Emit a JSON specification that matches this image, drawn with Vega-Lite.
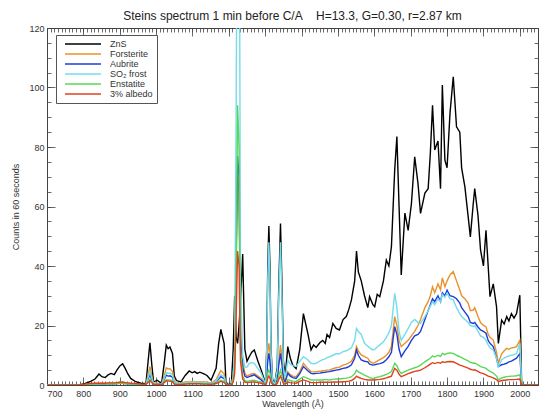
{
  "$schema": "https://vega.github.io/schema/vega-lite/v6.json",
  "width": 491,
  "height": 357,
  "autosize": {"type": "none"},
  "padding": {"left": 47, "top": 28, "right": 4, "bottom": 25},
  "background": "white",
  "title": {"text": "Steins spectrum 1 min before C/A\u00a0\u00a0\u00a0 H=13.3, G=0.30, r=2.87 km", "fontSize": 12, "font": "Liberation Sans", "fontWeight": "normal", "color": "#222", "offset": 1},
  "config": {
    "view": {"stroke": null},
    "axis": {"labelFont": "Liberation Sans", "titleFont": "Liberation Sans", "labelColor": "#333", "titleColor": "#333", "labelFontSize": 9, "titleFontSize": 9, "titleFontWeight": "normal", "grid": false, "domainColor": "#444", "tickColor": "#444", "tickWidth": 0.8, "domainWidth": 1}
  },
  "data": {"values": [
    {"w": 700, "ZnS": 0, "Fo": 0, "Au": 0, "SO2": 0, "En": 0, "Alb": 0},
    {"w": 790, "ZnS": 0, "Fo": 0, "Au": 0, "SO2": 0, "En": 0, "Alb": 0.1},
    {"w": 805, "ZnS": 0.5, "Fo": 0.2, "Au": 0.1, "SO2": 0.1, "En": 0.1, "Alb": 0.3},
    {"w": 820, "ZnS": 1.2, "Fo": 0.4, "Au": 0.2, "SO2": 0.3, "En": 0.3, "Alb": 0.5},
    {"w": 832, "ZnS": 2, "Fo": 0.5, "Au": 0.3, "SO2": 0.3, "En": 0.3, "Alb": 0.6},
    {"w": 843, "ZnS": 3.7, "Fo": 0.6, "Au": 0.3, "SO2": 0.4, "En": 0.4, "Alb": 0.6},
    {"w": 851, "ZnS": 2.8, "Fo": 0.5, "Au": 0.3, "SO2": 0.4, "En": 0.4, "Alb": 0.6},
    {"w": 860, "ZnS": 2.5, "Fo": 0.5, "Au": 0.3, "SO2": 0.4, "En": 0.4, "Alb": 0.6},
    {"w": 868, "ZnS": 3.4, "Fo": 0.6, "Au": 0.4, "SO2": 0.5, "En": 0.4, "Alb": 0.7},
    {"w": 876, "ZnS": 3.9, "Fo": 0.7, "Au": 0.4, "SO2": 0.5, "En": 0.4, "Alb": 0.7},
    {"w": 885, "ZnS": 3.5, "Fo": 0.7, "Au": 0.4, "SO2": 0.5, "En": 0.4, "Alb": 0.7},
    {"w": 893, "ZnS": 5.2, "Fo": 0.8, "Au": 0.5, "SO2": 0.6, "En": 0.5, "Alb": 0.8},
    {"w": 901, "ZnS": 6.5, "Fo": 1, "Au": 0.6, "SO2": 0.7, "En": 0.6, "Alb": 0.9},
    {"w": 908, "ZnS": 7.1, "Fo": 1, "Au": 0.6, "SO2": 0.7, "En": 0.6, "Alb": 0.9},
    {"w": 915, "ZnS": 5.6, "Fo": 0.8, "Au": 0.5, "SO2": 0.6, "En": 0.5, "Alb": 0.8},
    {"w": 922, "ZnS": 3.8, "Fo": 0.6, "Au": 0.4, "SO2": 0.5, "En": 0.4, "Alb": 0.7},
    {"w": 930, "ZnS": 2.2, "Fo": 0.5, "Au": 0.3, "SO2": 0.4, "En": 0.3, "Alb": 0.6},
    {"w": 944, "ZnS": 1.1, "Fo": 0.3, "Au": 0.2, "SO2": 0.2, "En": 0.2, "Alb": 0.5},
    {"w": 958, "ZnS": 0.6, "Fo": 0.2, "Au": 0.1, "SO2": 0.1, "En": 0.1, "Alb": 0.3},
    {"w": 972, "ZnS": 0.4, "Fo": 0.2, "Au": 0.1, "SO2": 0.1, "En": 0.1, "Alb": 0.2},
    {"w": 978, "ZnS": 8, "Fo": 3.5, "Au": 2, "SO2": 2.5, "En": 1.2, "Alb": 0.8},
    {"w": 983, "ZnS": 14.2, "Fo": 6.2, "Au": 3.5, "SO2": 4.5, "En": 2, "Alb": 1.5},
    {"w": 988, "ZnS": 7, "Fo": 3, "Au": 1.8, "SO2": 2.3, "En": 1, "Alb": 0.8},
    {"w": 993, "ZnS": 1, "Fo": 0.5, "Au": 0.3, "SO2": 0.4, "En": 0.2, "Alb": 0.2},
    {"w": 1003, "ZnS": 1.6, "Fo": 0.6, "Au": 0.4, "SO2": 0.5, "En": 0.3, "Alb": 0.3},
    {"w": 1015, "ZnS": 0.5, "Fo": 0.3, "Au": 0.2, "SO2": 0.2, "En": 0.1, "Alb": 0.1},
    {"w": 1022, "ZnS": 7, "Fo": 3, "Au": 1.8, "SO2": 2.2, "En": 1, "Alb": 0.8},
    {"w": 1028, "ZnS": 13.4, "Fo": 5.8, "Au": 3.3, "SO2": 4.2, "En": 1.8, "Alb": 1.4},
    {"w": 1033, "ZnS": 12.2, "Fo": 5.4, "Au": 3, "SO2": 3.9, "En": 1.7, "Alb": 1.3},
    {"w": 1038, "ZnS": 12.8, "Fo": 5.5, "Au": 3.1, "SO2": 4, "En": 1.7, "Alb": 1.3},
    {"w": 1045, "ZnS": 10.6, "Fo": 4.5, "Au": 2.6, "SO2": 3.3, "En": 1.4, "Alb": 1.1},
    {"w": 1050, "ZnS": 3, "Fo": 1.2, "Au": 0.7, "SO2": 0.9, "En": 0.4, "Alb": 0.3},
    {"w": 1056, "ZnS": 1.5, "Fo": 0.7, "Au": 0.4, "SO2": 0.5, "En": 0.3, "Alb": 0.2},
    {"w": 1068, "ZnS": 1, "Fo": 0.5, "Au": 0.3, "SO2": 0.4, "En": 0.2, "Alb": 0.2},
    {"w": 1080, "ZnS": 3.2, "Fo": 1, "Au": 0.6, "SO2": 0.8, "En": 0.4, "Alb": 0.3},
    {"w": 1091, "ZnS": 4.7, "Fo": 1.2, "Au": 0.8, "SO2": 1, "En": 0.5, "Alb": 0.4},
    {"w": 1099, "ZnS": 4.1, "Fo": 1.1, "Au": 0.7, "SO2": 0.9, "En": 0.5, "Alb": 0.4},
    {"w": 1106, "ZnS": 4.5, "Fo": 1.1, "Au": 0.7, "SO2": 0.9, "En": 0.5, "Alb": 0.4},
    {"w": 1113, "ZnS": 3.9, "Fo": 1.1, "Au": 0.7, "SO2": 0.9, "En": 0.5, "Alb": 0.4},
    {"w": 1120, "ZnS": 4.3, "Fo": 1.1, "Au": 0.7, "SO2": 0.9, "En": 0.5, "Alb": 0.4},
    {"w": 1130, "ZnS": 3.8, "Fo": 1, "Au": 0.6, "SO2": 0.8, "En": 0.4, "Alb": 0.3},
    {"w": 1140, "ZnS": 3.2, "Fo": 1, "Au": 0.6, "SO2": 0.8, "En": 0.4, "Alb": 0.3},
    {"w": 1151, "ZnS": 1.6, "Fo": 0.6, "Au": 0.4, "SO2": 0.5, "En": 0.3, "Alb": 0.2},
    {"w": 1165, "ZnS": 5.6, "Fo": 1.8, "Au": 1, "SO2": 1.3, "En": 0.6, "Alb": 0.5},
    {"w": 1172, "ZnS": 14, "Fo": 3.5, "Au": 2, "SO2": 2.6, "En": 1.2, "Alb": 0.9},
    {"w": 1178, "ZnS": 18.7, "Fo": 4.8, "Au": 2.8, "SO2": 3.5, "En": 1.6, "Alb": 1.2},
    {"w": 1183, "ZnS": 16, "Fo": 4.2, "Au": 2.4, "SO2": 3.1, "En": 1.4, "Alb": 1},
    {"w": 1187, "ZnS": 14, "Fo": 3.8, "Au": 2.2, "SO2": 2.8, "En": 1.3, "Alb": 0.9},
    {"w": 1192, "ZnS": 1, "Fo": 0.4, "Au": 0.3, "SO2": 0.3, "En": 0.2, "Alb": 0.2},
    {"w": 1200, "ZnS": 0, "Fo": 0, "Au": 0, "SO2": 0, "En": 0, "Alb": 0},
    {"w": 1207, "ZnS": 0.5, "Fo": 0.3, "Au": 0.2, "SO2": 0.2, "En": 0.1, "Alb": 0.1},
    {"w": 1212, "ZnS": 12, "Fo": 3, "Au": 2, "SO2": 3, "En": 1.5, "Alb": 1},
    {"w": 1216, "ZnS": 30, "Fo": 10, "Au": 8, "SO2": 12, "En": 6, "Alb": 4},
    {"w": 1220, "ZnS": 16, "Fo": 45, "Au": 40, "SO2": 90, "En": 35, "Alb": 22},
    {"w": 1224, "ZnS": 14, "Fo": 70, "Au": 77, "SO2": 200, "En": 94, "Alb": 45},
    {"w": 1228, "ZnS": 20, "Fo": 65, "Au": 70, "SO2": 200, "En": 80, "Alb": 40},
    {"w": 1232, "ZnS": 28, "Fo": 20, "Au": 16, "SO2": 35, "En": 12, "Alb": 8},
    {"w": 1238, "ZnS": 44, "Fo": 8, "Au": 6, "SO2": 10, "En": 3, "Alb": 2},
    {"w": 1244, "ZnS": 12, "Fo": 4, "Au": 3, "SO2": 6, "En": 1.5, "Alb": 1},
    {"w": 1250, "ZnS": 8, "Fo": 3, "Au": 2.5, "SO2": 6, "En": 1.2, "Alb": 0.8},
    {"w": 1256, "ZnS": 9.5, "Fo": 3.4, "Au": 2.8, "SO2": 7.3, "En": 1.4, "Alb": 0.9},
    {"w": 1263, "ZnS": 11, "Fo": 3.7, "Au": 3.1, "SO2": 7.5, "En": 1.5, "Alb": 1},
    {"w": 1270, "ZnS": 11.8, "Fo": 3.9, "Au": 3.4, "SO2": 7.3, "En": 1.6, "Alb": 1},
    {"w": 1280, "ZnS": 8, "Fo": 3, "Au": 2.5, "SO2": 5.5, "En": 1.2, "Alb": 0.8},
    {"w": 1289, "ZnS": 5, "Fo": 2.2, "Au": 1.7, "SO2": 3.9, "En": 1, "Alb": 0.6},
    {"w": 1297, "ZnS": 2, "Fo": 1, "Au": 0.8, "SO2": 1.5, "En": 0.5, "Alb": 0.3},
    {"w": 1301, "ZnS": 0.5, "Fo": 0.2, "Au": 0.2, "SO2": 0.5, "En": 0.1, "Alb": 0.1},
    {"w": 1304, "ZnS": 12, "Fo": 4, "Au": 3, "SO2": 11, "En": 1.3, "Alb": 0.8},
    {"w": 1307, "ZnS": 40, "Fo": 11, "Au": 8, "SO2": 36, "En": 4, "Alb": 2.3},
    {"w": 1310, "ZnS": 53.4, "Fo": 14, "Au": 10.6, "SO2": 48, "En": 5, "Alb": 3},
    {"w": 1313, "ZnS": 40, "Fo": 11, "Au": 8, "SO2": 36, "En": 4, "Alb": 2.3},
    {"w": 1316, "ZnS": 12, "Fo": 4, "Au": 3, "SO2": 11, "En": 1.3, "Alb": 0.8},
    {"w": 1320, "ZnS": 2, "Fo": 1, "Au": 0.7, "SO2": 1.5, "En": 0.4, "Alb": 0.3},
    {"w": 1326, "ZnS": 0.3, "Fo": 0.1, "Au": 0.1, "SO2": 0.3, "En": 0, "Alb": 0},
    {"w": 1333, "ZnS": 6, "Fo": 2, "Au": 1.5, "SO2": 5, "En": 0.8, "Alb": 0.5},
    {"w": 1337, "ZnS": 32, "Fo": 8, "Au": 6.5, "SO2": 29, "En": 3, "Alb": 1.8},
    {"w": 1342, "ZnS": 54.3, "Fo": 13.4, "Au": 10.6, "SO2": 48, "En": 5, "Alb": 3},
    {"w": 1346, "ZnS": 34, "Fo": 9, "Au": 7, "SO2": 30, "En": 3, "Alb": 1.8},
    {"w": 1350, "ZnS": 8, "Fo": 3, "Au": 2, "SO2": 6, "En": 0.8, "Alb": 0.5},
    {"w": 1355, "ZnS": 3, "Fo": 1.5, "Au": 1, "SO2": 2.5, "En": 0.5, "Alb": 0.3},
    {"w": 1362, "ZnS": 12.9, "Fo": 4.5, "Au": 3.9, "SO2": 8.4, "En": 1.8, "Alb": 1},
    {"w": 1369, "ZnS": 9, "Fo": 3.5, "Au": 3, "SO2": 7, "En": 1.5, "Alb": 0.8},
    {"w": 1376, "ZnS": 6.6, "Fo": 3, "Au": 2.5, "SO2": 6.5, "En": 1.3, "Alb": 0.7},
    {"w": 1385, "ZnS": 5.5, "Fo": 2.8, "Au": 2.2, "SO2": 6.2, "En": 1.2, "Alb": 0.6},
    {"w": 1395, "ZnS": 12, "Fo": 4.5, "Au": 3.8, "SO2": 8, "En": 2, "Alb": 1.2},
    {"w": 1405, "ZnS": 24, "Fo": 7.3, "Au": 6.2, "SO2": 9.5, "En": 2.8, "Alb": 1.7},
    {"w": 1417, "ZnS": 17.4, "Fo": 5.5, "Au": 4.8, "SO2": 8.5, "En": 2.2, "Alb": 1.2},
    {"w": 1426, "ZnS": 11.8, "Fo": 4.5, "Au": 3.9, "SO2": 7.3, "En": 1.7, "Alb": 0.8},
    {"w": 1433, "ZnS": 13.5, "Fo": 4.4, "Au": 3.8, "SO2": 7.1, "En": 1.7, "Alb": 0.8},
    {"w": 1440, "ZnS": 12.6, "Fo": 4.5, "Au": 3.9, "SO2": 7.3, "En": 1.7, "Alb": 0.8},
    {"w": 1450, "ZnS": 14.2, "Fo": 4.6, "Au": 4, "SO2": 8, "En": 1.7, "Alb": 0.9},
    {"w": 1458, "ZnS": 15, "Fo": 4.8, "Au": 4.2, "SO2": 8.5, "En": 1.7, "Alb": 0.9},
    {"w": 1465, "ZnS": 14, "Fo": 4.9, "Au": 4.3, "SO2": 8.8, "En": 1.8, "Alb": 0.9},
    {"w": 1470, "ZnS": 17, "Fo": 5, "Au": 4.4, "SO2": 9.2, "En": 1.8, "Alb": 0.9},
    {"w": 1477, "ZnS": 16, "Fo": 5, "Au": 4.5, "SO2": 9.5, "En": 1.7, "Alb": 0.9},
    {"w": 1486, "ZnS": 20.7, "Fo": 5.5, "Au": 4.8, "SO2": 10, "En": 1.9, "Alb": 1},
    {"w": 1495, "ZnS": 19, "Fo": 5.8, "Au": 5, "SO2": 10.5, "En": 2, "Alb": 1},
    {"w": 1504, "ZnS": 18.5, "Fo": 6, "Au": 5.2, "SO2": 10.5, "En": 2, "Alb": 1},
    {"w": 1514, "ZnS": 22, "Fo": 6.7, "Au": 5.6, "SO2": 11.2, "En": 2.2, "Alb": 1.1},
    {"w": 1523, "ZnS": 23, "Fo": 7, "Au": 5.8, "SO2": 11.5, "En": 2.3, "Alb": 1.2},
    {"w": 1530, "ZnS": 25.5, "Fo": 7.4, "Au": 6.2, "SO2": 12, "En": 2.5, "Alb": 1.3},
    {"w": 1537, "ZnS": 28.6, "Fo": 8, "Au": 6.8, "SO2": 12.5, "En": 2.8, "Alb": 1.5},
    {"w": 1546, "ZnS": 35, "Fo": 10, "Au": 9, "SO2": 15, "En": 3.8, "Alb": 2.2},
    {"w": 1551, "ZnS": 45, "Fo": 12.9, "Au": 11.8, "SO2": 19, "En": 5, "Alb": 3},
    {"w": 1556, "ZnS": 38, "Fo": 11.5, "Au": 10, "SO2": 18, "En": 4.4, "Alb": 2.6},
    {"w": 1564, "ZnS": 35, "Fo": 10.1, "Au": 8.4, "SO2": 17, "En": 3.9, "Alb": 2.2},
    {"w": 1573, "ZnS": 30, "Fo": 9.5, "Au": 8, "SO2": 14, "En": 3.3, "Alb": 1.9},
    {"w": 1582, "ZnS": 26, "Fo": 9, "Au": 7.8, "SO2": 13, "En": 2.8, "Alb": 1.7},
    {"w": 1587, "ZnS": 29.7, "Fo": 8, "Au": 7, "SO2": 12.5, "En": 2.5, "Alb": 1.7},
    {"w": 1596, "ZnS": 27, "Fo": 7.3, "Au": 6.7, "SO2": 11.8, "En": 2.2, "Alb": 1.7},
    {"w": 1601, "ZnS": 26.3, "Fo": 7.5, "Au": 6.8, "SO2": 12, "En": 2.3, "Alb": 1.7},
    {"w": 1608, "ZnS": 30.5, "Fo": 8, "Au": 7, "SO2": 12.8, "En": 2.6, "Alb": 1.8},
    {"w": 1615, "ZnS": 29.7, "Fo": 8.5, "Au": 7.2, "SO2": 13.5, "En": 2.8, "Alb": 1.9},
    {"w": 1625, "ZnS": 35, "Fo": 9.2, "Au": 7.6, "SO2": 14.5, "En": 3.2, "Alb": 2.1},
    {"w": 1633, "ZnS": 42, "Fo": 10, "Au": 8.5, "SO2": 16, "En": 3.6, "Alb": 2.4},
    {"w": 1640, "ZnS": 40, "Fo": 11, "Au": 9.5, "SO2": 17.5, "En": 4, "Alb": 2.7},
    {"w": 1647, "ZnS": 46.5, "Fo": 13, "Au": 11, "SO2": 20, "En": 4.5, "Alb": 3},
    {"w": 1656, "ZnS": 72.3, "Fo": 23, "Au": 19.6, "SO2": 30.8, "En": 7.3, "Alb": 5.6},
    {"w": 1662, "ZnS": 83.5, "Fo": 20, "Au": 17, "SO2": 26, "En": 6.5, "Alb": 5},
    {"w": 1668, "ZnS": 60, "Fo": 15, "Au": 12, "SO2": 18, "En": 4.8, "Alb": 3.6},
    {"w": 1674, "ZnS": 37, "Fo": 12.9, "Au": 9.5, "SO2": 15, "En": 3.9, "Alb": 2.8},
    {"w": 1684, "ZnS": 57.8, "Fo": 14, "Au": 11.5, "SO2": 17, "En": 4.5, "Alb": 3.3},
    {"w": 1693, "ZnS": 52, "Fo": 15, "Au": 13, "SO2": 19, "En": 5, "Alb": 3.8},
    {"w": 1702, "ZnS": 61, "Fo": 16.5, "Au": 15, "SO2": 21, "En": 5.4, "Alb": 4.2},
    {"w": 1711, "ZnS": 76.7, "Fo": 18, "Au": 16.5, "SO2": 22, "En": 5.8, "Alb": 4.6},
    {"w": 1720, "ZnS": 67.8, "Fo": 20, "Au": 17, "SO2": 21, "En": 6.2, "Alb": 4.8},
    {"w": 1727, "ZnS": 57.7, "Fo": 22, "Au": 18, "SO2": 20.7, "En": 6.7, "Alb": 5},
    {"w": 1739, "ZnS": 64.5, "Fo": 26, "Au": 22, "SO2": 23, "En": 7.8, "Alb": 5.8},
    {"w": 1748, "ZnS": 66, "Fo": 28, "Au": 25, "SO2": 25, "En": 8.5, "Alb": 6.5},
    {"w": 1754, "ZnS": 77.9, "Fo": 30, "Au": 27, "SO2": 26.5, "En": 9, "Alb": 7},
    {"w": 1760, "ZnS": 94, "Fo": 33, "Au": 29, "SO2": 28, "En": 9.8, "Alb": 7.5},
    {"w": 1766, "ZnS": 79, "Fo": 31, "Au": 28, "SO2": 27, "En": 9.4, "Alb": 7.2},
    {"w": 1775, "ZnS": 82, "Fo": 34, "Au": 30, "SO2": 29, "En": 10, "Alb": 7.6},
    {"w": 1782, "ZnS": 66, "Fo": 32, "Au": 28, "SO2": 28, "En": 9.6, "Alb": 7.3},
    {"w": 1787, "ZnS": 100.8, "Fo": 36, "Au": 31, "SO2": 30.5, "En": 10.6, "Alb": 7.8},
    {"w": 1794, "ZnS": 75.6, "Fo": 33, "Au": 30, "SO2": 29.5, "En": 10.2, "Alb": 7.6},
    {"w": 1800, "ZnS": 73, "Fo": 35, "Au": 31.9, "SO2": 30.8, "En": 10.6, "Alb": 7.8},
    {"w": 1808, "ZnS": 91.3, "Fo": 37, "Au": 30, "SO2": 29, "En": 10.8, "Alb": 7.9},
    {"w": 1817, "ZnS": 103.6, "Fo": 38.1, "Au": 29.7, "SO2": 28.6, "En": 10.6, "Alb": 7.8},
    {"w": 1826, "ZnS": 86.8, "Fo": 35, "Au": 29, "SO2": 26, "En": 10, "Alb": 7.3},
    {"w": 1835, "ZnS": 85, "Fo": 31.9, "Au": 27.5, "SO2": 24, "En": 9.5, "Alb": 6.7},
    {"w": 1840, "ZnS": 73, "Fo": 30, "Au": 26, "SO2": 23, "En": 9.2, "Alb": 6.5},
    {"w": 1849, "ZnS": 66.6, "Fo": 29, "Au": 24.5, "SO2": 22, "En": 8.6, "Alb": 6.1},
    {"w": 1858, "ZnS": 56.6, "Fo": 27.5, "Au": 23, "SO2": 21, "En": 8.1, "Alb": 5.7},
    {"w": 1864, "ZnS": 49.8, "Fo": 25, "Au": 21, "SO2": 20, "En": 7.6, "Alb": 5.3},
    {"w": 1872, "ZnS": 61, "Fo": 25.2, "Au": 20.7, "SO2": 19.6, "En": 7.3, "Alb": 5},
    {"w": 1876, "ZnS": 66, "Fo": 26, "Au": 21, "SO2": 20, "En": 7.4, "Alb": 5.1},
    {"w": 1885, "ZnS": 57, "Fo": 23, "Au": 19.5, "SO2": 18, "En": 6.8, "Alb": 4.6},
    {"w": 1892, "ZnS": 45.4, "Fo": 21, "Au": 18.5, "SO2": 16.5, "En": 6.2, "Alb": 4.1},
    {"w": 1900, "ZnS": 40, "Fo": 20, "Au": 18, "SO2": 16, "En": 5.9, "Alb": 3.8},
    {"w": 1907, "ZnS": 52, "Fo": 19.6, "Au": 17.4, "SO2": 15, "En": 5.6, "Alb": 3.4},
    {"w": 1913, "ZnS": 40, "Fo": 17, "Au": 15, "SO2": 13.5, "En": 5, "Alb": 3},
    {"w": 1918, "ZnS": 29.7, "Fo": 16, "Au": 14, "SO2": 12.5, "En": 4.6, "Alb": 2.8},
    {"w": 1927, "ZnS": 34, "Fo": 15.1, "Au": 12.9, "SO2": 11.8, "En": 4, "Alb": 2.4},
    {"w": 1936, "ZnS": 26.3, "Fo": 11, "Au": 9, "SO2": 9, "En": 3, "Alb": 1.8},
    {"w": 1941, "ZnS": 14, "Fo": 7.3, "Au": 6.2, "SO2": 6.2, "En": 1.7, "Alb": 1.1},
    {"w": 1950, "ZnS": 21.8, "Fo": 10.5, "Au": 6.8, "SO2": 8.5, "En": 2.4, "Alb": 1.5},
    {"w": 1957, "ZnS": 20.5, "Fo": 11.5, "Au": 7, "SO2": 9, "En": 2.6, "Alb": 1.6},
    {"w": 1964, "ZnS": 23, "Fo": 12.3, "Au": 7.3, "SO2": 9.5, "En": 2.8, "Alb": 1.7},
    {"w": 1970, "ZnS": 21.5, "Fo": 12, "Au": 7.8, "SO2": 9.8, "En": 2.9, "Alb": 1.8},
    {"w": 1977, "ZnS": 24, "Fo": 12.5, "Au": 8, "SO2": 10, "En": 3, "Alb": 1.8},
    {"w": 1984, "ZnS": 22.5, "Fo": 12.6, "Au": 8.5, "SO2": 10.2, "En": 3, "Alb": 1.8},
    {"w": 1991, "ZnS": 24, "Fo": 12.9, "Au": 9, "SO2": 10.6, "En": 3.1, "Alb": 1.9},
    {"w": 2000, "ZnS": 30.2, "Fo": 15, "Au": 10.6, "SO2": 14, "En": 3.4, "Alb": 2},
    {"w": 2005, "ZnS": 0, "Fo": 0, "Au": 0, "SO2": 0, "En": 0, "Alb": 0},
    {"w": 2050, "ZnS": 0, "Fo": 0, "Au": 0, "SO2": 0, "En": 0, "Alb": 0}
  ]},
  "transform": [{"fold": ["ZnS", "Fo", "Au", "SO2", "En", "Alb"], "as": ["series", "value"]}],
  "resolve": {"axis": {"x": "independent", "y": "independent"}},
  "layer": [
    {
      "mark": {"type": "line", "strokeWidth": 1.4, "clip": true},
      "encoding": {
        "x": {"field": "w", "type": "quantitative", "scale": {"domain": [700, 2050], "nice": false, "zero": false},
          "axis": {"orient": "bottom", "values": [700, 800, 900, 1000, 1100, 1200, 1300, 1400, 1500, 1600, 1700, 1800, 1900, 2000], "tickSize": -8, "labelPadding": 12, "title": "Wavelength (Å)", "titlePadding": 1, "format": "d"}},
        "y": {"field": "value", "type": "quantitative", "scale": {"domain": [0, 120], "nice": false},
          "axis": {"orient": "left", "values": [0, 20, 40, 60, 80, 100, 120], "tickSize": -8, "labelPadding": 11, "title": "Counts in 60 seconds", "titlePadding": 8}},
        "color": {"field": "series", "type": "nominal",
          "scale": {"domain": ["ZnS", "Fo", "Au", "SO2", "En", "Alb"], "range": ["#000000", "#E8922A", "#1E3CD8", "#74DCEA", "#5AD65A", "#E0401E"]},
          "legend": {"orient": "none", "legendX": 9, "legendY": 7, "title": null, "symbolType": "M0,0H9", "symbolSize": 64, "symbolStrokeWidth": 1.3, "labelOffset": 40, "labelFont": "Liberation Sans", "labelFontSize": 9, "labelColor": "#333", "strokeColor": "#555", "fillColor": "white", "padding": 4, "rowPadding": 0,
            "labelExpr": "datum.label == 'Fo' ? 'Forsterite' : datum.label == 'Au' ? 'Aubrite' : datum.label == 'SO2' ? 'SO₂ frost' : datum.label == 'En' ? 'Enstatite' : datum.label == 'Alb' ? '3% albedo' : datum.label"}}
      }
    },
    {
      "mark": {"type": "line", "opacity": 0, "clip": true},
      "encoding": {
        "x": {"field": "w", "type": "quantitative", "axis": {"orient": "bottom", "values": [700,710,720,730,740,750,760,770,780,790,800,810,820,830,840,850,860,870,880,890,900,910,920,930,940,950,960,970,980,990,1000,1010,1020,1030,1040,1050,1060,1070,1080,1090,1100,1110,1120,1130,1140,1150,1160,1170,1180,1190,1200,1210,1220,1230,1240,1250,1260,1270,1280,1290,1300,1310,1320,1330,1340,1350,1360,1370,1380,1390,1400,1410,1420,1430,1440,1450,1460,1470,1480,1490,1500,1510,1520,1530,1540,1550,1560,1570,1580,1590,1600,1610,1620,1630,1640,1650,1660,1670,1680,1690,1700,1710,1720,1730,1740,1750,1760,1770,1780,1790,1800,1810,1820,1830,1840,1850,1860,1870,1880,1890,1900,1910,1920,1930,1940,1950,1960,1970,1980,1990,2000,2010,2020,2030,2040,2050], "tickSize": -4, "labels": false, "domain": false, "title": null}},
        "y": {"field": "value", "type": "quantitative", "axis": {"orient": "left", "values": [0,5,10,15,20,25,30,35,40,45,50,55,60,65,70,75,80,85,90,95,100,105,110,115,120], "tickSize": -4, "labels": false, "domain": false, "title": null}}
      }
    },
    {
      "mark": {"type": "line", "opacity": 0, "clip": true},
      "encoding": {
        "x": {"field": "w", "type": "quantitative", "axis": {"orient": "top", "values": [700, 800, 900, 1000, 1100, 1200, 1300, 1400, 1500, 1600, 1700, 1800, 1900, 2000], "tickSize": -8, "labels": false, "domain": true, "title": null}},
        "y": {"field": "value", "type": "quantitative", "axis": {"orient": "right", "values": [0, 20, 40, 60, 80, 100, 120], "tickSize": -8, "labels": false, "domain": true, "title": null}}
      }
    },
    {
      "mark": {"type": "line", "opacity": 0, "clip": true},
      "encoding": {
        "x": {"field": "w", "type": "quantitative", "axis": {"orient": "top", "values": [700,710,720,730,740,750,760,770,780,790,800,810,820,830,840,850,860,870,880,890,900,910,920,930,940,950,960,970,980,990,1000,1010,1020,1030,1040,1050,1060,1070,1080,1090,1100,1110,1120,1130,1140,1150,1160,1170,1180,1190,1200,1210,1220,1230,1240,1250,1260,1270,1280,1290,1300,1310,1320,1330,1340,1350,1360,1370,1380,1390,1400,1410,1420,1430,1440,1450,1460,1470,1480,1490,1500,1510,1520,1530,1540,1550,1560,1570,1580,1590,1600,1610,1620,1630,1640,1650,1660,1670,1680,1690,1700,1710,1720,1730,1740,1750,1760,1770,1780,1790,1800,1810,1820,1830,1840,1850,1860,1870,1880,1890,1900,1910,1920,1930,1940,1950,1960,1970,1980,1990,2000,2010,2020,2030,2040,2050], "tickSize": -4, "labels": false, "domain": false, "title": null}},
        "y": {"field": "value", "type": "quantitative", "axis": {"orient": "right", "values": [0,5,10,15,20,25,30,35,40,45,50,55,60,65,70,75,80,85,90,95,100,105,110,115,120], "tickSize": -4, "labels": false, "domain": false, "title": null}}
      }
    }
  ]
}
